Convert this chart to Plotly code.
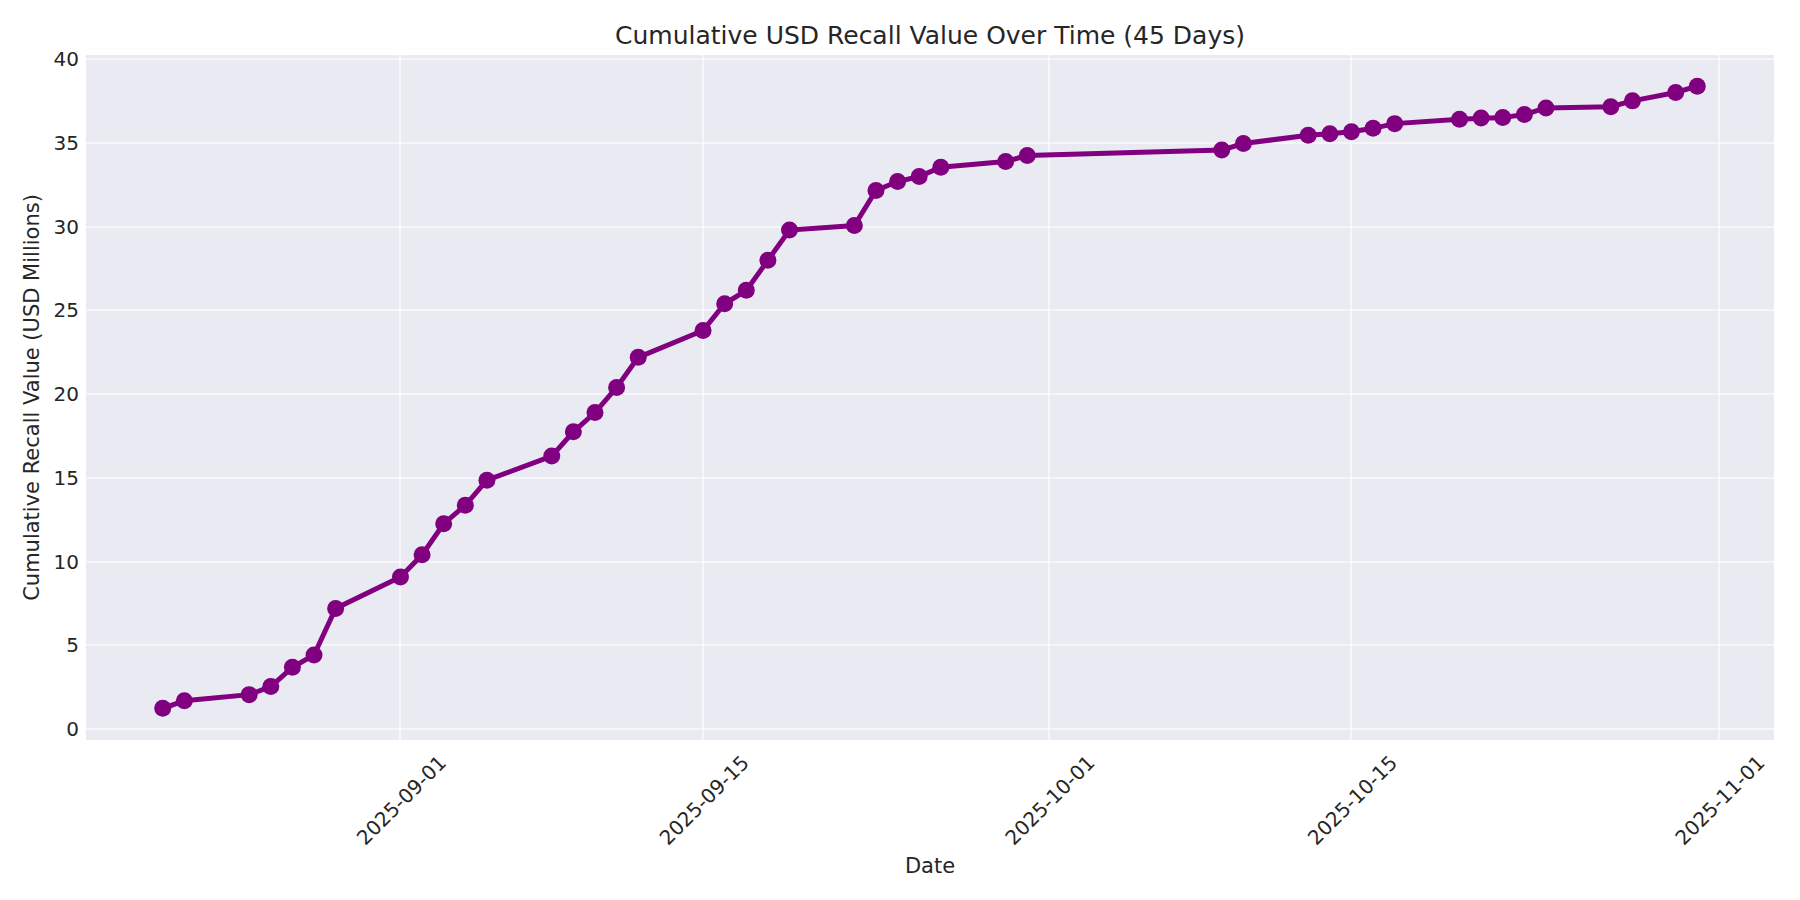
import plotly.graph_objects as go

dates = [
    "2025-08-21", "2025-08-22", "2025-08-25", "2025-08-26", "2025-08-27",
    "2025-08-28", "2025-08-29", "2025-09-01", "2025-09-02", "2025-09-03",
    "2025-09-04", "2025-09-05", "2025-09-08", "2025-09-09", "2025-09-10",
    "2025-09-11", "2025-09-12", "2025-09-15", "2025-09-16", "2025-09-17",
    "2025-09-18", "2025-09-19", "2025-09-22", "2025-09-23", "2025-09-24",
    "2025-09-25", "2025-09-26", "2025-09-29", "2025-09-30", "2025-10-09",
    "2025-10-10", "2025-10-13", "2025-10-14", "2025-10-15", "2025-10-16",
    "2025-10-17", "2025-10-20", "2025-10-21", "2025-10-22", "2025-10-23",
    "2025-10-24", "2025-10-27", "2025-10-28", "2025-10-30", "2025-10-31",
]
cumulative_value = [
    1.23, 1.68, 2.05, 2.53, 3.68, 4.42, 7.2, 9.08, 10.4, 12.26,
    13.36, 14.86, 16.3, 17.75, 18.9, 20.4, 22.2, 23.8, 25.4, 26.2,
    28.0, 29.8, 30.07, 32.17, 32.7, 33.0, 33.56, 33.9, 34.25, 34.58,
    34.97, 35.47, 35.56, 35.68, 35.88, 36.16, 36.42, 36.5, 36.52, 36.7,
    37.1, 37.17, 37.52, 38.02, 38.4,
]
date_ticks = ["2025-09-01", "2025-09-15", "2025-10-01", "2025-10-15", "2025-11-01"]
value_ticks = [0, 5, 10, 15, 20, 25, 30, 35, 40]

text_color = "#262626"
grid_color = "rgba(255,255,255,0.55)"

fig = go.Figure()
fig.add_trace(go.Scatter(
    x=dates, y=cumulative_value, mode="lines+markers",
    line=dict(color="#800080", width=5),
    marker=dict(color="#800080", size=17),
    showlegend=False,
))

# the page body adds an 8px offset, margins below allow for it
fig.update_layout(
    width=1800, height=900,
    margin=dict(l=78, r=34, t=47, b=168),
    paper_bgcolor="white", plot_bgcolor="#EAEAF2",
    font=dict(family="DejaVu Sans", color=text_color, size=20),
    title=dict(text="Cumulative USD Recall Value Over Time (45 Days)",
               x=(930 - 8) / 1800, xanchor="center", y=1 - 27 / 900, yanchor="middle",
               font=dict(size=25, color=text_color)),
)
fig.update_xaxes(
    range=["2025-08-17 10:48", "2025-11-03 13:12"],
    tickvals=date_ticks, ticktext=date_ticks, tickangle=-45,
    ticklabelshift=40, ticklabelstandoff=6,
    showgrid=True, gridcolor=grid_color, gridwidth=2,
    zeroline=False, showline=False, ticks="",
    tickfont=dict(size=20, color=text_color),
    title=dict(text="Date", font=dict(size=21, color=text_color), standoff=9),
)
fig.update_yaxes(
    range=[-0.66, 40.26], tickvals=value_ticks,
    showgrid=True, gridcolor=grid_color, gridwidth=2,
    zeroline=False, showline=False, ticks="", ticklabelstandoff=6,
    tickfont=dict(size=20, color=text_color),
    title=dict(text="Cumulative Recall Value (USD Millions)",
               font=dict(size=21, color=text_color), standoff=8),
)

fig.write_html("out.html")
